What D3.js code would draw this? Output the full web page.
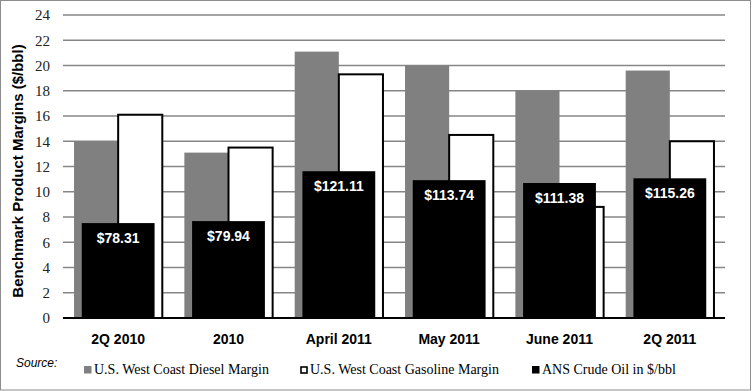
<!DOCTYPE html>
<html>
<head>
<meta charset="utf-8">
<script src="https://cdn.jsdelivr.net/npm/d3@7"></script>
<style>
  body { margin: 0; background: #fff; }
  svg { display: block; }
</style>
</head>
<body>
<script>
// Data
const categories = ["2Q 2010", "2010", "April 2011", "May 2011", "June 2011", "2Q 2011"];
const dieselMargin = [14.0, 13.1, 21.1, 20.0, 18.0, 19.6];
const gasolineMargin = [16.1, 13.5, 19.3, 14.5, 8.8, 14.0];
const crudeOil = [78.31, 79.94, 121.11, 113.74, 111.38, 115.26];
const yTicks = [0, 2, 4, 6, 8, 10, 12, 14, 16, 18, 20, 22, 24];
const seriesNames = ["U.S. West Coast Diesel Margin", "U.S. West Coast Gasoline Margin", "ANS Crude Oil in $/bbl"];

const width = 756, height = 391;
const margin = { top: 15, right: 31, bottom: 73, left: 63 };
const innerW = width - margin.left - margin.right;
const innerH = height - margin.top - margin.bottom;

const svg = d3.select("body").append("svg")
    .attr("width", width)
    .attr("height", height);

// chart border
svg.append("rect")
    .attr("x", 0.5).attr("y", 0.5)
    .attr("width", 750).attr("height", 389.5)
    .attr("fill", "#fff")
    .attr("stroke", "#8c8c8c")
    .attr("stroke-width", 1);

const g = svg.append("g")
    .attr("transform", `translate(${margin.left},${margin.top})`);

// scales
const x = d3.scaleBand().domain(categories).range([0, innerW]);
const pair = d3.scaleBand().domain([0, 1]).range([0, x.bandwidth()]).paddingOuter(0.25).paddingInner(0);
const y = d3.scaleLinear().domain([0, 24]).range([innerH, 0]);
// crude oil sits on a hidden secondary axis
const y2 = d3.scaleLinear().domain([0, 250]).range([innerH, 0]);

// gridlines
g.append("g")
    .selectAll("line")
    .data(yTicks.filter(d => d > 0))
    .join("line")
    .attr("x1", 0).attr("x2", innerW)
    .attr("y1", d => y(d)).attr("y2", d => y(d))
    .attr("stroke", "#868686")
    .attr("stroke-width", 1.3);

// y tick labels
g.append("g")
    .selectAll("text")
    .data(yTicks)
    .join("text")
    .attr("x", -13)
    .attr("y", d => y(d))
    .attr("dy", "0.35em")
    .attr("text-anchor", "end")
    .attr("font-family", "'Liberation Serif', 'Times New Roman', serif")
    .attr("font-size", 15)
    .attr("fill", "#222")
    .text(d => d);

// diesel bars
g.append("g")
    .selectAll("rect")
    .data(dieselMargin)
    .join("rect")
    .attr("x", (d, i) => x(categories[i]) + pair(0))
    .attr("y", d => y(d))
    .attr("width", pair.bandwidth())
    .attr("height", d => innerH - y(d))
    .attr("fill", "#808080");

// gasoline bars
g.append("g")
    .selectAll("rect")
    .data(gasolineMargin)
    .join("rect")
    .attr("x", (d, i) => x(categories[i]) + pair(1))
    .attr("y", d => y(d))
    .attr("width", pair.bandwidth())
    .attr("height", d => innerH - y(d))
    .attr("fill", "#fff")
    .attr("stroke", "#000")
    .attr("stroke-width", 2);

// crude oil bars (overlaid, wider)
const crudeW = x.bandwidth() * 0.66;
g.append("g")
    .selectAll("rect")
    .data(crudeOil)
    .join("rect")
    .attr("x", (d, i) => x(categories[i]) + (x.bandwidth() - crudeW) / 2)
    .attr("y", d => y2(d))
    .attr("width", crudeW)
    .attr("height", d => innerH - y2(d))
    .attr("fill", "#000");

g.append("g")
    .selectAll("text")
    .data(crudeOil)
    .join("text")
    .attr("x", (d, i) => x(categories[i]) + x.bandwidth() / 2)
    .attr("y", d => y2(d) + 20)
    .attr("text-anchor", "middle")
    .attr("font-family", "Arial, 'Liberation Sans', sans-serif")
    .attr("font-weight", "bold")
    .attr("font-size", 14)
    .attr("fill", "#fff")
    .text(d => "$" + d.toFixed(2));

// x axis line
g.append("line")
    .attr("x1", 0).attr("x2", innerW)
    .attr("y1", innerH).attr("y2", innerH)
    .attr("stroke", "#000")
    .attr("stroke-width", 2);

// x labels
g.append("g")
    .selectAll("text")
    .data(categories)
    .join("text")
    .attr("x", d => x(d) + x.bandwidth() / 2)
    .attr("y", innerH + 26)
    .attr("text-anchor", "middle")
    .attr("font-family", "Arial, 'Liberation Sans', sans-serif")
    .attr("font-weight", "bold")
    .attr("font-size", 14)
    .attr("fill", "#000")
    .text(d => d);

// y title
svg.append("text")
    .attr("transform", "translate(23,171) rotate(-90)")
    .attr("text-anchor", "middle")
    .attr("font-family", "Arial, 'Liberation Sans', sans-serif")
    .attr("font-weight", "bold")
    .attr("font-size", 15)
    .attr("fill", "#000")
    .text("Benchmark Product Margins ($/bbl)");

// source note
svg.append("text")
    .attr("x", 16).attr("y", 367)
    .attr("font-family", "Arial, 'Liberation Sans', sans-serif")
    .attr("font-style", "italic")
    .attr("font-size", 12)
    .attr("fill", "#000")
    .text("Source:");

// legend
const legendX = [84, 300, 532];
const legendFill = ["#808080", "#fff", "#000"];
const legend = svg.append("g")
    .selectAll("g")
    .data(seriesNames)
    .join("g")
    .attr("transform", (d, i) => `translate(${legendX[i]},370)`);

legend.append("rect")
    .attr("x", (d, i) => i === 1 ? 1 : 0)
    .attr("y", (d, i) => i === 1 ? -3 : -4)
    .attr("width", (d, i) => i === 1 ? 6 : 7.5)
    .attr("height", (d, i) => i === 1 ? 6 : 7.5)
    .attr("fill", (d, i) => legendFill[i])
    .attr("stroke", (d, i) => i === 1 ? "#000" : "none")
    .attr("stroke-width", 1.6);

legend.append("text")
    .attr("x", 10)
    .attr("y", 0)
    .attr("dy", "0.3em")
    .attr("font-family", "'Liberation Serif', 'Times New Roman', serif")
    .attr("font-size", 14)
    .attr("fill", "#000")
    .text(d => d);
</script>
</body>
</html>
